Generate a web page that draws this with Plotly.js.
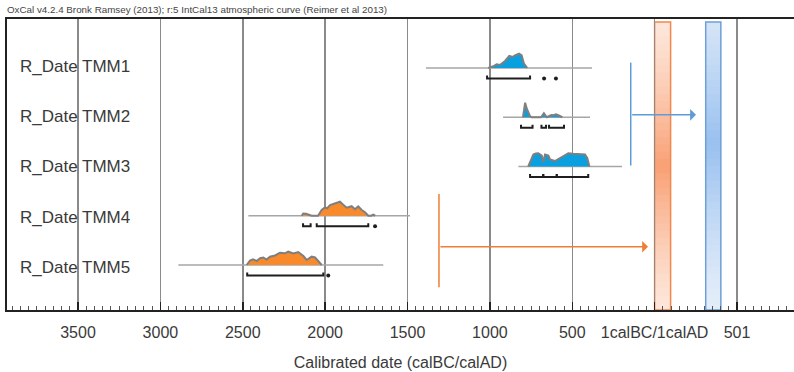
<!DOCTYPE html>
<html>
<head>
<meta charset="utf-8">
<script src="https://cdn.plot.ly/plotly-3.0.1.min.js"></script>
<style>html,body{margin:0;padding:0;background:#fff;}#chart{width:794px;height:372px;}</style>
</head>
<body>
<div id="chart"></div>
<script>
// ---- Data (years: negative = BC, positive = AD) ----
const sampleNames = ["R_Date TMM1", "R_Date TMM2", "R_Date TMM3", "R_Date TMM4", "R_Date TMM5"];
const sampleGroup = ["blue", "blue", "blue", "orange", "orange"];

const years_TMM1 = [-1010, -979, -959, -939, -908, -882, -862, -848, -823, -807, -793, -773];
const prob_TMM1  = [0, 1.7, 3.7, 3, 7, 12, 11, 12.7, 14.3, 12.7, 4.3, 0];

const years_TMM2 = [-799, -791, -786, -777, -767, -757, -747, -690, -681, -672, -663, -654, -636, -625, -612, -599, -585, -572, -560];
const prob_TMM2  = [0, 8, 14.5, 9, 4.7, 1.3, 0, 0, 2, 4, 2, 0, 1.5, 2.3, 2, 3, 2, 1, 0];

const years_TMM3 = [-767, -752, -736, -721, -706, -685, -676, -665, -645, -635, -605, -574, -544, -524, -494, -453, -423, -409, -396];
const prob_TMM3  = [0, 6, 12, 13, 13.3, 11, 4.3, 12, 11, 7, 5.5, 8.5, 11.5, 13.3, 12.7, 12.7, 12, 8.5, 0];

const years_TMM4 = [-2142, -2133, -2116, -2082, -2043, -2021, -2001, -1987, -1970, -1940, -1910, -1890, -1869, -1839, -1819, -1799, -1778, -1758, -1738, -1720, -1708, -1696];
const prob_TMM4  = [0, 2.3, 2, 0, 0, 5.7, 8.3, 7.5, 10.7, 12.7, 14, 11, 8, 9.5, 6.5, 9.3, 5.7, 3.5, 0, 0, 1, 0];

const years_TMM5 = [-2476, -2456, -2438, -2415, -2395, -2375, -2355, -2335, -2304, -2274, -2244, -2224, -2193, -2163, -2132, -2112, -2082, -2061, -2041, -2021];
const prob_TMM5  = [0, 4.5, 5.7, 4, 6.7, 7.5, 5.5, 8.3, 9.5, 12.3, 11.7, 13.3, 11.5, 13, 9, 5, 8.3, 7.5, 3.8, 0];

// calibration span (grey line) per sample
const spanStart = [-1388, -920, -827, -2466, -2891];
const spanEnd   = [-380, -392, -198, -1485, -1647];

// 95.4% ranges per sample
const ranges_TMM1 = [[-1017, -756], [-671, -671], [-599, -599]];
const ranges_TMM2 = [[-811, -741], [-687, -659], [-641, -550]];
const ranges_TMM3 = [[-756, -676], [-676, -594], [-594, -403]];
const ranges_TMM4 = [[-2134, -2088], [-2051, -1738], [-1697, -1697]];
const ranges_TMM5 = [[-2473, -2011], [-1981, -1981]];

// phase boundaries (coloured bars)
const barStart = [0, 310];
const barEnd   = [97, 402];

// phase brackets with arrows
const bracketYear = [-145, -1309];
const bracketTop  = [0.89, 3.56];
const bracketBot  = [2.98, 5.45];
const arrowRow    = [1.95, 4.63];
const arrowTip    = [251, -40];

const tickVals  = [-3500, -3000, -2500, -2000, -1500, -1000, -500, 0, 500];
const tickTexts = ["3500", "3000", "2500", "2000", "1500", "1000", "500", "1calBC/1calAD", "501"];

// ---- Drawing ----
const allYears = [years_TMM1, years_TMM2, years_TMM3, years_TMM4, years_TMM5];
const allProb  = [prob_TMM1, prob_TMM2, prob_TMM3, prob_TMM4, prob_TMM5];
const allRanges = [ranges_TMM1, ranges_TMM2, ranges_TMM3, ranges_TMM4, ranges_TMM5];
const PX = 49.25;   // pixels per row
const fillCol = {blue: "#0aa0e0", orange: "#f88a2c"};
const traces = [];

for (let i = 0; i < 5; i++) {
  const row = i + 1;
  traces.push({x: [spanStart[i], spanEnd[i]], y: [row, row], mode: "lines",
    line: {color: "#a6a6a6", width: 1.3}, hoverinfo: "skip", showlegend: false});
  traces.push({x: allYears[i], y: allProb[i].map(p => row - p / PX), mode: "lines",
    fill: "toself", fillcolor: fillCol[sampleGroup[i]],
    line: {color: "#7f7f7f", width: 2}, hoverinfo: "skip", showlegend: false});
  const by = row + 10.5 / PX, up = 3 / PX;
  const bx = [], byy = [], dx = [], dy = [];
  allRanges[i].forEach(r => {
    if (r[0] === r[1]) { dx.push(r[0]); dy.push(by); }
    else { bx.push(r[0], r[0], r[1], r[1], null); byy.push(by - up, by, by, by - up, null); }
  });
  traces.push({x: bx, y: byy, mode: "lines", line: {color: "#1e1e1e", width: 2},
    hoverinfo: "skip", showlegend: false});
  if (dx.length) traces.push({x: dx, y: dy, mode: "markers",
    marker: {color: "#1e1e1e", size: 4}, hoverinfo: "skip", showlegend: false});
}

function hex(c) { return [parseInt(c.slice(1,3),16), parseInt(c.slice(3,5),16), parseInt(c.slice(5,7),16)]; }
function mix(a, b, w) { const A = hex(a), B = hex(b); return "rgb(" + A.map((v, k) => Math.round(v + (B[k] - v) * w)).join(",") + ")"; }

const shapes = [];
const barStyles = [
  {light: "#fde6da", dark: "#f9a074", peak: 0.5, border: "#f3874c"},
  {light: "#e3edf9", dark: "#99c0ef", peak: 0.42, border: "#6e9fd6"}
];
const barTop = 0.066, barBot = 5.914, N = 40;
for (let b = 0; b < 2; b++) {
  const s = barStyles[b];
  const h = (barBot - barTop) / N;
  for (let k = 0; k < N; k++) {
    const t = (k + 0.5) / N;
    const w = 1 - Math.abs(t - s.peak) / Math.max(s.peak, 1 - s.peak);
    shapes.push({type: "rect", xref: "x", yref: "y", layer: "below",
      x0: barStart[b], x1: barEnd[b],
      y0: barTop + h * k, y1: Math.min(barBot, barTop + h * (k + 1.6)),
      fillcolor: mix(s.light, s.dark, Math.pow(w, 1.3)), line: {width: 0}});
  }
  shapes.push({type: "rect", xref: "x", yref: "y", layer: "below",
    x0: barStart[b], x1: barEnd[b], y0: barTop, y1: barBot,
    line: {color: s.border, width: 1.5}, fillcolor: "rgba(0,0,0,0)"});
}
const arrowCol = ["#5f9bd6", "#ef7d34"];
const annotations = [];
for (let a = 0; a < 2; a++) {
  shapes.push({type: "line", xref: "x", yref: "y", x0: bracketYear[a], x1: bracketYear[a],
    y0: bracketTop[a], y1: bracketBot[a], line: {color: arrowCol[a], width: 1.5}});
  annotations.push({x: arrowTip[a], y: arrowRow[a], ax: bracketYear[a], ay: arrowRow[a],
    xref: "x", yref: "y", axref: "x", ayref: "y", text: "", showarrow: true,
    arrowhead: 1, arrowsize: 1.3, arrowwidth: 1.5, arrowcolor: arrowCol[a]});
}
// sample labels inside the plot, at the left
sampleNames.forEach((name, i) => {
  annotations.push({x: 0.0135, xref: "paper", xanchor: "left", y: i + 1 - 0.03 + 0.02 * i, yref: "y",
    yanchor: "middle", text: name, showarrow: false,
    font: {size: 17, color: "#3a3a3a", family: "Liberation Sans, Arial, sans-serif"}});
});

const layout = {
  width: 794, height: 372,
  margin: {l: 7, r: 0, t: 19, b: 62},
  paper_bgcolor: "#fff", plot_bgcolor: "#fff",
  font: {family: "Liberation Sans, Arial, sans-serif", color: "#3a3a3a"},
  title: {text: "OxCal v4.2.4 Bronk Ramsey (2013); r:5 IntCal13 atmospheric curve (Reimer et al 2013)",
    x: 0.0088, xanchor: "left", xref: "container", y: 0.974, yanchor: "middle", yref: "container",
    font: {size: 9.8, color: "#444"}},
  xaxis: {range: [-3931, 846], tickmode: "array", tickvals: tickVals, ticktext: tickTexts,
    showgrid: true, gridcolor: "#8a8a8a", gridwidth: 1.5,
    ticks: "inside", ticklen: 8, tickwidth: 1.5, tickcolor: "#222",
    showline: true, linecolor: "#222", linewidth: 2, mirror: true, zeroline: false,
    minor: {tickmode: "linear", tick0: 0, dtick: 50, ticks: "inside", ticklen: 4, tickwidth: 1, tickcolor: "#555", showgrid: false},
    tickfont: {size: 16, color: "#3a3a3a"}, ticklabelstandoff: 7,
    title: {text: "Calibrated date (calBC/calAD)", font: {size: 16, color: "#3a3a3a"}, standoff: 17}},
  yaxis: {range: [5.914, 0.005], showticklabels: false, ticks: "",
    showgrid: false, zeroline: false, showline: true, linecolor: "#222", linewidth: 2},
  shapes: shapes, annotations: annotations, showlegend: false
};

Plotly.newPlot("chart", traces, layout, {displayModeBar: false, staticPlot: true});
</script>
</body>
</html>
